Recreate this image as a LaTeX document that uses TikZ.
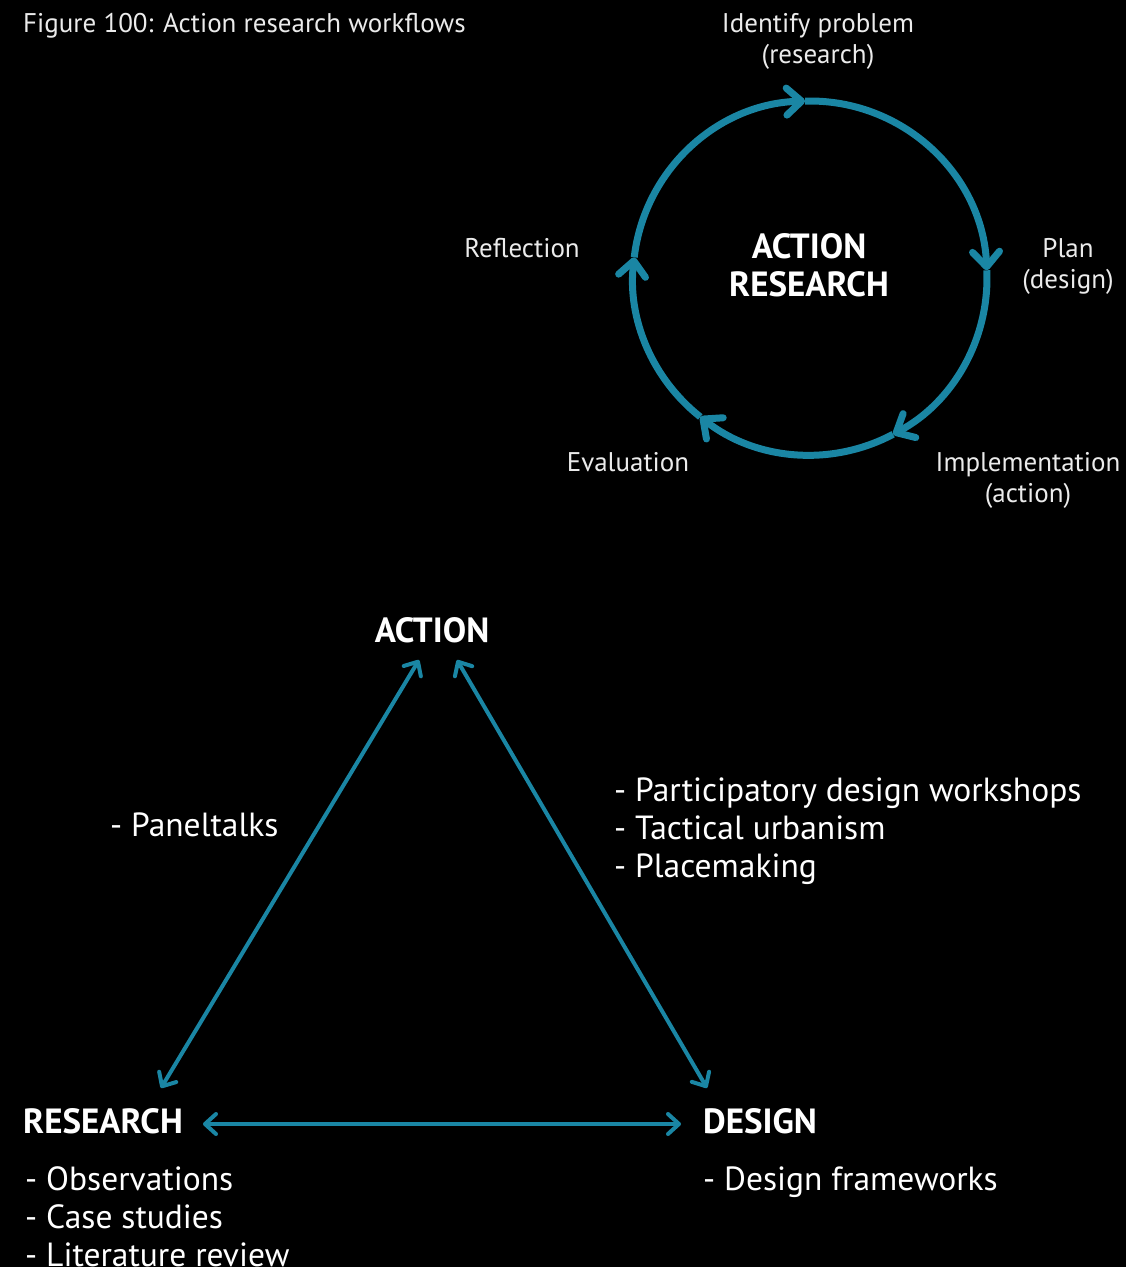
\documentclass[tikz,border=0pt]{standalone}
\usepackage{fontspec}
\setmainfont{PT Sans}
\usetikzlibrary{arrows.meta}
\definecolor{tealc}{RGB}{26,134,164}
\definecolor{lightw}{RGB}{235,235,235}
\begin{document}
\begin{tikzpicture}[x=1pt,y=-1pt,
  lbl/.style={text=lightw, inner sep=0pt, font=\fontsize{27}{31}\selectfont, align=center},
  head/.style={text=white, inner sep=0pt, font=\fontsize{35}{38}\bfseries\selectfont, align=center},
  item/.style={text=white, inner sep=0pt, font=\fontsize{33.5}{38}\selectfont, align=left},
  ring/.style={draw=tealc, line width=7pt, -{Straight Barb[length=15pt,width=27pt,round]}},
  dbl/.style={draw=tealc, line width=4pt, {Straight Barb[length=11pt,width=20pt,round]}-{Straight Barb[length=11pt,width=20pt,round]}}
]
\fill[black] (0,0) rectangle (1126,1267);
\useasboundingbox (0,0) rectangle (1126,1267);

% title
\node[lbl, anchor=base west] (title) at (23,32) {Figure 100: Action research workflows};

% cycle
\coordinate (cc) at (810,278);
\def\R{177}
\draw[ring] (cc) ++(-173.3:\R) arc[start angle=-173.3, end angle=-91.6, radius=\R];
\draw[ring] (cc) ++(-91.6:\R) arc[start angle=-91.6, end angle=-2.5, radius=\R];
\draw[ring] (cc) ++(-2.5:\R) arc[start angle=-2.5, end angle=62, radius=\R];
\draw[ring] (cc) ++(62:\R) arc[start angle=62, end angle=128.3, radius=\R];
\draw[ring] (cc) ++(128.3:\R) arc[start angle=128.3, end angle=186.7, radius=\R];

\node[head, anchor=base] (ar) at (809,296) {ACTION\\RESEARCH};
\node[lbl, anchor=base] (idp) at (818,63) {Identify problem\\(research)};
\node[lbl, anchor=base] (plan) at (1068,288) {Plan\\(design)};
\node[lbl, anchor=base] (impl) at (1028,502) {Implementation\\(action)};
\node[lbl, anchor=base] (eval) at (628,471) {Evaluation};
\node[lbl, anchor=base] (refl) at (522,257) {Reflection};

% triangle
\node[head, anchor=base] (action) at (432,642) {ACTION};
\node[head, anchor=base west] (research) at (23,1133) {RESEARCH};
\node[head, anchor=base west] (design) at (703,1133) {DESIGN};

\coordinate (a1) at (419,660);
\coordinate (r1) at (161,1088);
\coordinate (a2) at (457,660);
\coordinate (d1) at (707,1088);
\coordinate (r2) at (203,1124);
\coordinate (d2) at (681,1124);
\draw[dbl] (r1) -- (a1);
\draw[dbl] (a2) -- (d1);
\draw[dbl] (r2) -- (d2);

\node[item, anchor=base west] (pt) at (110,836) {- Paneltalks};
\node[item, anchor=base west] (pd) at (614,877) {- Participatory design workshops\\- Tactical urbanism\\- Placemaking};
\node[item, anchor=base west] (obs) at (25,1266) {- Observations\\- Case studies\\- Literature review};
\node[item, anchor=base west] (df) at (703,1190) {- Design frameworks};
\end{tikzpicture}
\end{document}
